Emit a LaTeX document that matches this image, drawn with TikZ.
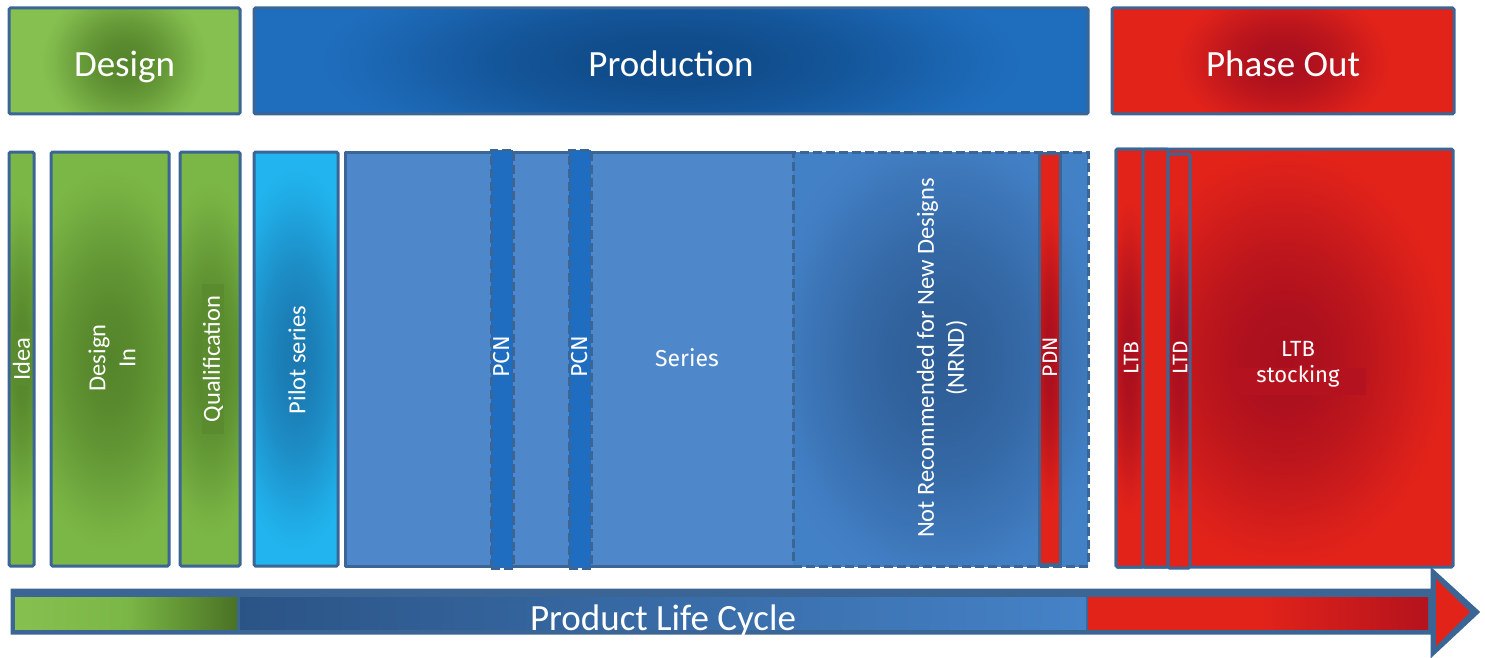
\documentclass[tikz,border=0pt]{standalone}
\usepackage{fontspec}
\setmainfont{Carlito}
\newfontfamily\dinfont{Fira Sans}
\definecolor{edge}{HTML}{3B6595}
\definecolor{gOut}{HTML}{86C050}
\definecolor{gIn}{HTML}{55852B}
\definecolor{gBox}{HTML}{7BB746}
\definecolor{gLbl}{HTML}{5A8B2F}
\definecolor{gDark}{HTML}{4A7224}
\definecolor{cyanOut}{HTML}{21B4EE}
\definecolor{cyanIn}{HTML}{1B79B1}
\definecolor{pOut}{HTML}{1F6EBE}
\definecolor{pIn}{HTML}{0F4A88}
\definecolor{body}{HTML}{4F88CA}
\definecolor{pcn}{HTML}{1E6DC0}
\definecolor{nOut}{HTML}{4381C7}
\definecolor{nIn}{HTML}{2E5E97}
\definecolor{rOut}{HTML}{E2231A}
\definecolor{rIn}{HTML}{A90F1E}
\definecolor{rLbl}{HTML}{B5121F}
\definecolor{bDark}{HTML}{2B5486}
\definecolor{bLight}{HTML}{4582C7}
\makeatletter
\pgfdeclareradialshading[tikz@radial@inner,tikz@radial@outer]{softglow}{\pgfpointorigin}{%
  color(0bp)=(tikz@radial@inner);
  color(4bp)=(tikz@radial@inner!90!tikz@radial@outer);
  color(8bp)=(tikz@radial@inner!65!tikz@radial@outer);
  color(12bp)=(tikz@radial@inner!30!tikz@radial@outer);
  color(14bp)=(tikz@radial@inner!12!tikz@radial@outer);
  color(16bp)=(tikz@radial@outer);
  color(50bp)=(tikz@radial@outer)}
\makeatother
\tikzset{
  stage/.style={draw=edge, line width=3pt, rounded corners=1.5pt, inner sep=0pt, anchor=north west, text=white},
  glow/.style n args={4}{path picture={\shade[inner color=#1, outer color=#2, shading=softglow] (path picture bounding box.center) ellipse (#3 and #4);}},
  head/.style={font=\fontsize{37}{42}\selectfont, text height=32pt, text depth=0pt},
  vlbl/.style={rotate=90, text=white, align=center, inner sep=0pt, font=\fontsize{24.5}{30}\selectfont},
  dlbl/.style={text=white, align=center, inner sep=0pt, font=\dinfont\fontsize{22}{26}\selectfont},
  dashedge/.style={draw=edge, line width=3pt, dash pattern=on 9pt off 4pt},
  pcnbox/.style={dashedge, fill=pcn, inner sep=0pt, anchor=north west},
  edgeline/.style={draw=edge, line width=3pt, line join=round},
  bar/.style={anchor=north west, inner sep=0pt, minimum height=32pt},
}
\begin{document}
\begin{tikzpicture}[x=1pt,y=-1pt, every node/.append style={outer sep=0pt}]
\useasboundingbox (0,0) rectangle (1485,658);
% top row
\node[stage, head, fill=gOut, glow={gIn}{gOut}{130pt}{120pt}, minimum width=231pt, minimum height=106pt] (design) at (9,8) {Design};
\node[stage, head, fill=pOut, glow={pIn}{pOut}{560pt}{170pt}, minimum width=834pt, minimum height=106pt] (production) at (254,8) {Production};
\node[stage, head, fill=rOut, glow={rIn}{rOut}{140pt}{120pt}, minimum width=342pt, minimum height=106pt] (phaseout) at (1112,8) {Phase Out};
% design stages
\node[stage, fill=gBox, glow={gIn}{gBox}{50pt}{260pt}, minimum width=25pt, minimum height=414pt] (idea) at (9,152) {};
\node[stage, fill=gBox, glow={gIn}{gBox}{150pt}{300pt}, minimum width=118pt, minimum height=414pt] (designin) at (51,152) {};
\node[stage, fill=gBox, glow={gIn}{gBox}{90pt}{280pt}, minimum width=60pt, minimum height=414pt] (qual) at (180,152) {};
\node[stage, fill=cyanOut, glow={cyanIn}{cyanOut}{110pt}{300pt}, minimum width=84pt, minimum height=414pt] (pilot) at (254,152) {};
% production body
\node[fill=body, inner sep=0pt, anchor=north west, minimum width=743pt, minimum height=414pt] (prodbody) at (345,152) {};
\node[dashedge, fill=nOut, glow={nIn}{nOut}{280pt}{380pt}, inner sep=0pt, anchor=north west, minimum width=295pt, minimum height=414pt] (nrnd) at (793,152) {};
\draw[edgeline] (nrnd.north west) -- (prodbody.north west) -- (prodbody.south west) -- (nrnd.south west);
\node[pcnbox, minimum width=22pt, minimum height=418pt] (pcn1) at (491,150) {};
\node[pcnbox, minimum width=22pt, minimum height=418pt] (pcn2) at (569,150) {};
\node[draw=edge, line width=3pt, fill=rOut, glow={rIn}{rOut}{30pt}{240pt}, inner sep=0pt, anchor=north west, minimum width=21pt, minimum height=411pt] (pdn) at (1039,153.5) {};
% phase out
\node[stage, fill=rOut, glow={rIn}{rOut}{260pt}{330pt}, minimum width=337pt, minimum height=418pt] (pobox) at (1116,149) {};
\node[stage, fill=rOut, glow={rIn}{rOut}{40pt}{250pt}, minimum width=27pt, minimum height=418pt] (ltb) at (1116,149) {};
\node[stage, fill=rOut, minimum width=25pt, minimum height=418pt] (gap) at (1143,149) {};
\node[stage, fill=rOut, glow={rIn}{rOut}{40pt}{250pt}, minimum width=22pt, minimum height=414pt] (ltd) at (1168,154) {};
% labels
\node[vlbl, fill=gLbl, inner xsep=6pt] (idealbl) at (21.5,359) {Idea};
\node[vlbl] (dilbl) at (112,358) {Design\\In};
\node[vlbl, fill=gLbl, inner xsep=12pt, inner ysep=1pt] (quallbl) at (213,359) {Qualification};
\node[vlbl] (pilotlbl) at (297,360) {Pilot series};
\node[dlbl, rotate=90, font=\dinfont\fontsize{23}{26}\selectfont] (pcn1lbl) at (502,357) {PCN};
\node[dlbl, rotate=90, font=\dinfont\fontsize{23}{26}\selectfont] (pcn2lbl) at (580,357) {PCN};
\node[dlbl, font=\dinfont\fontsize{23}{26}\selectfont] (serieslbl) at (687,358) {Series};
\node[vlbl] (nrndlbl) at (942,358) {Not Recommended for New Designs\\(NRND)};
\node[dlbl, rotate=90, font=\dinfont\fontsize{21}{26}\selectfont] (pdnlbl) at (1050,357) {PDN};
\node[dlbl, rotate=90, font=\dinfont\fontsize{21}{26}\selectfont] (ltblbl) at (1131,358) {LTB};
\node[dlbl, rotate=90, font=\dinfont\fontsize{21}{26}\selectfont] (ltdlbl) at (1180,358) {LTD};
\node[fill=rLbl, inner sep=0pt, minimum width=134pt, minimum height=27pt] (stockbg) at (1299,381) {};
\node[dlbl] (stocklbl) at (1298,364) {LTB\\stocking};
% life cycle arrow
\filldraw[fill=edge, draw=edge, line width=3pt, line join=miter] (12,590) -- (1432,590) -- (1432,570) -- (1478,612) -- (1432,655) -- (1432,633) -- (12,633) -- cycle;
\fill[rOut] (1436,579) -- (1470,612) -- (1436,646) -- cycle;
\node[bar, minimum width=222pt, left color=gOut, right color=gDark, middle color=gBox] (gbar) at (15,597) {};
\node[bar, minimum width=846pt, left color=bDark, right color=bLight] (bbar) at (240,597) {};
\node[bar, minimum width=340pt, left color=rOut, right color=rIn!80!rOut, middle color=rOut] (rbar) at (1088,597) {};
\node[head, text=white, inner sep=0pt] (plc) at (663,614) {Product Life Cycle};
\end{tikzpicture}
\end{document}
